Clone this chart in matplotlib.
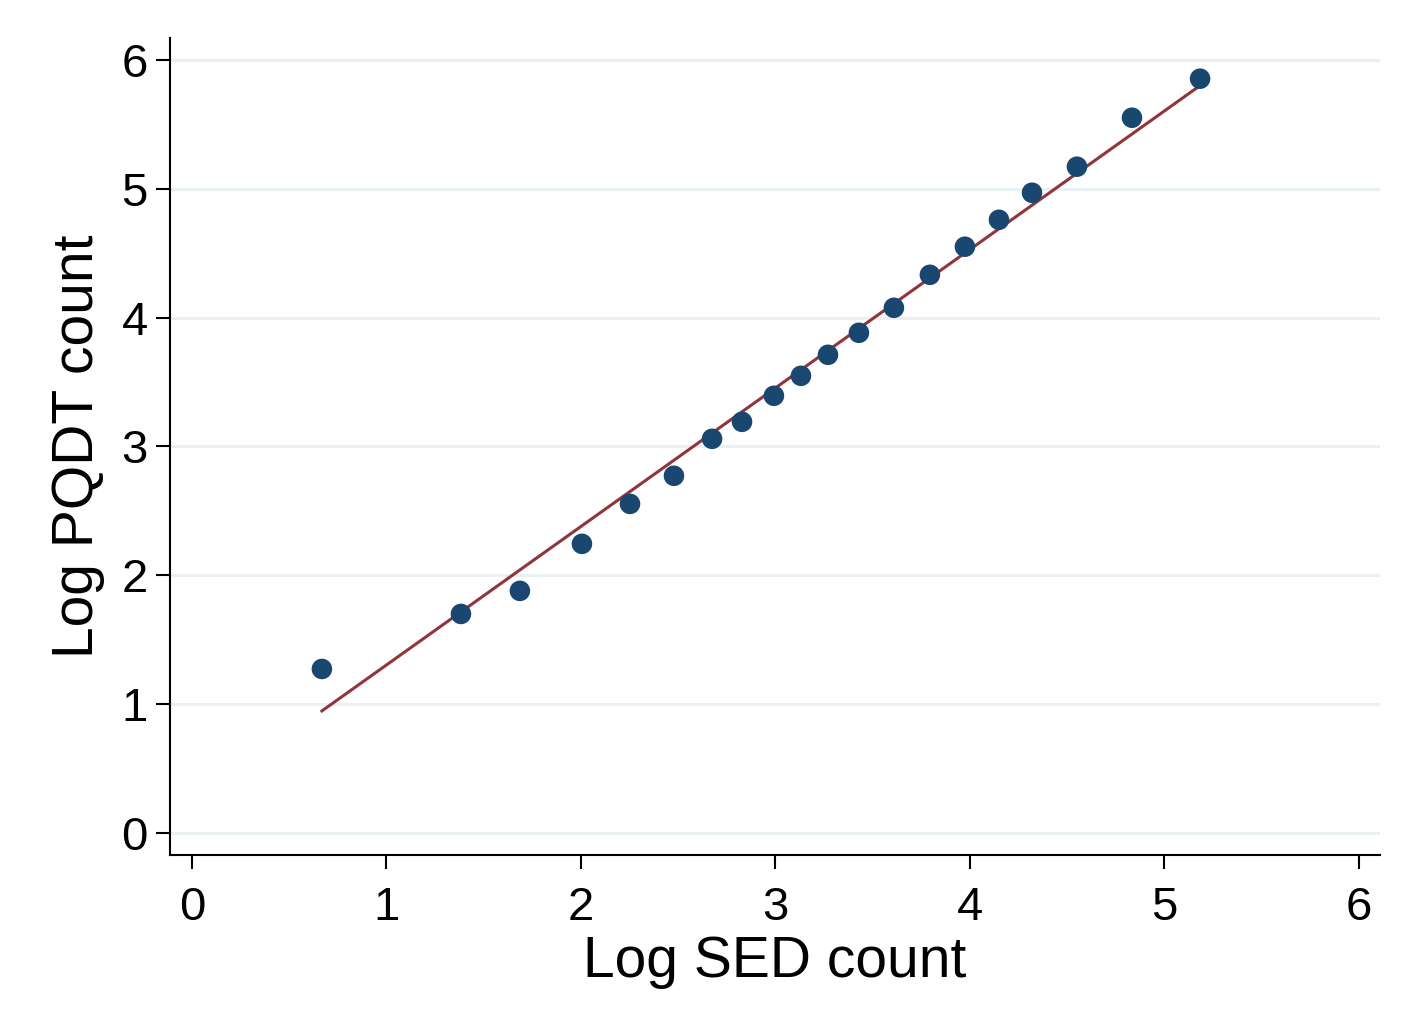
import numpy as np
import matplotlib.pyplot as plt

plt.rcParams['font.family'] = ['Liberation Sans', 'DejaVu Sans']

# binned log counts
log_sed = [0.668, 1.383, 1.686, 2.005, 2.252, 2.478, 2.674, 2.828, 2.992, 3.131,
           3.270, 3.429, 3.609, 3.794, 3.974, 4.149, 4.319, 4.550, 4.833, 5.183]
log_pqdt = [1.273, 1.700, 1.879, 2.244, 2.554, 2.772, 3.059, 3.191, 3.393, 3.548,
            3.711, 3.882, 4.076, 4.332, 4.550, 4.759, 4.969, 5.171, 5.551, 5.854]
# linear fit shown in the picture (fit on the underlying data)
fit_intercept = 0.229
fit_slope = 1.075
xticks = [0, 1, 2, 3, 4, 5, 6]
yticks = [0, 1, 2, 3, 4, 5, 6]

x = np.array(log_sed)
y = np.array(log_pqdt)
xs = np.array([x.min(), x.max()])

fig = plt.figure(figsize=(14.19, 10.32), dpi=100)
ax = fig.add_axes([0.1198, 0.1715, 0.8527, 0.7917])

for t in yticks:
    ax.axhline(t, color='#eaf1f3', lw=2.2, zorder=0)

ax.plot(xs, fit_intercept + fit_slope * xs, color='#90353b', lw=2.2, zorder=2)
ax.scatter(x, y, s=14.8**2, color='#1a476f', edgecolors='none', zorder=3)

ax.set_xlim(-0.113, 6.108)
ax.set_ylim(-0.171, 6.17)
ax.set_xticks(xticks)
ax.set_yticks(yticks)
ax.tick_params(axis='both', direction='out', length=10, width=1.5, labelsize=34, color='black')
ax.tick_params(axis='x', pad=12)
ax.tick_params(axis='y', pad=6)
for s in ['top', 'right']:
    ax.spines[s].set_visible(False)
for s in ['left', 'bottom']:
    ax.spines[s].set_linewidth(1.5)

ax.set_xlabel('Log SED count', fontsize=41, labelpad=4)
ax.set_ylabel('Log PQDT count', fontsize=41, labelpad=12)

fig.savefig('out.png', dpi=100, facecolor='white')
